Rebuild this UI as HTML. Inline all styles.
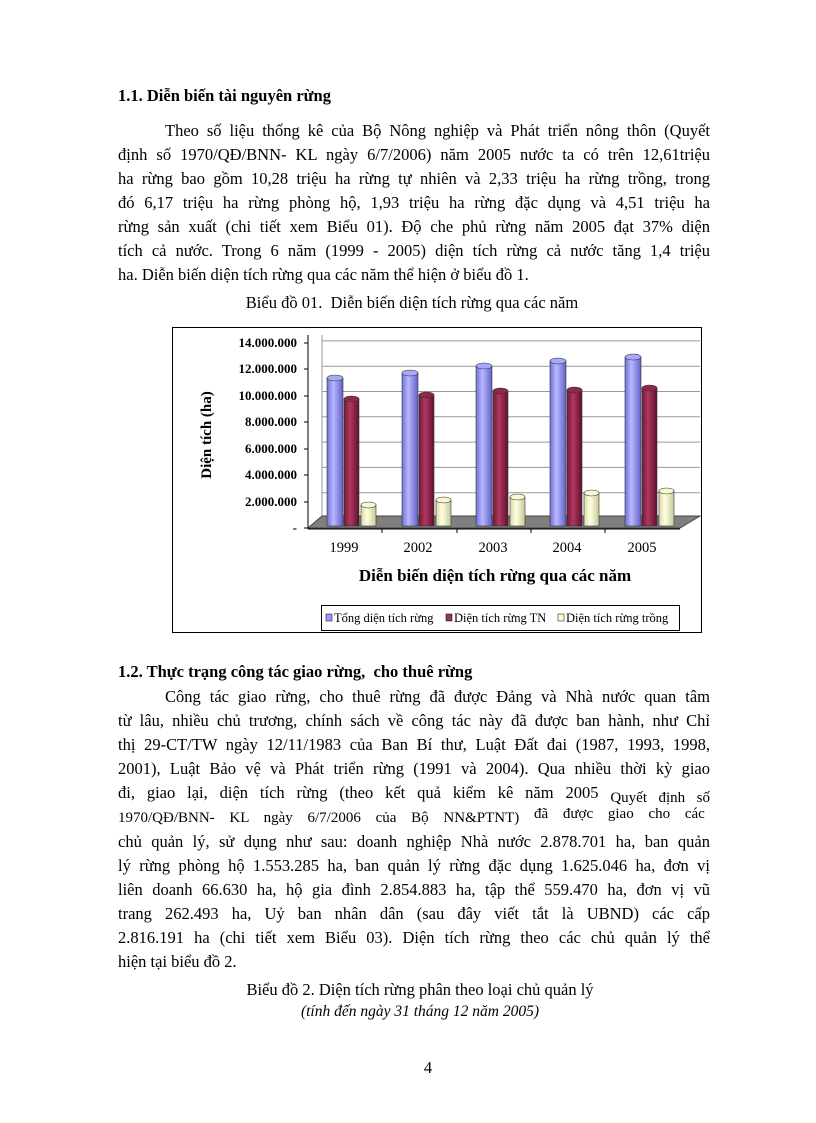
<!DOCTYPE html>
<html><head><meta charset="utf-8"><style>
body{margin:0;background:#fff;}
#p{position:relative;width:816px;height:1123px;overflow:hidden;font-family:"Liberation Serif",serif;font-size:16.5px;color:#000;}
.l{position:absolute;left:118px;width:592px;height:20px;line-height:20px;white-space:nowrap;text-align:justify;text-align-last:justify;}
.n{text-align-last:left;}
.i{left:165px;width:545px;}
.b{font-weight:bold;}
.c{position:absolute;left:0;width:816px;text-align:center;line-height:20px;}
</style></head><body><div id="p">
<div class="l n b" style="top:86px">1.1. Diễn biến tài nguyên rừng</div>
<div class="l i" style="top:121px">Theo số liệu thống kê của Bộ Nông nghiệp và Phát triển nông thôn (Quyết</div>
<div class="l" style="top:145px">định số 1970/QĐ/BNN- KL ngày 6/7/2006) năm 2005 nước ta có trên 12,61triệu</div>
<div class="l" style="top:169px">ha rừng bao gồm 10,28 triệu ha rừng tự nhiên và 2,33 triệu ha rừng trồng, trong</div>
<div class="l" style="top:193px">đó 6,17 triệu ha rừng phòng hộ, 1,93 triệu ha rừng đặc dụng và 4,51 triệu ha</div>
<div class="l" style="top:217px">rừng sản xuất (chi tiết xem Biểu 01). Độ che phủ rừng năm 2005 đạt 37% diện</div>
<div class="l" style="top:241px">tích cả nước. Trong 6 năm (1999 - 2005) diện tích rừng cả nước tăng 1,4 triệu</div>
<div class="l n" style="top:265px">ha. Diễn biến diện tích rừng qua các năm thể hiện ở biểu đồ 1.</div>
<div class="c" style="top:293px;left:4px">Biểu đồ 01.&nbsp; Diễn biến diện tích rừng qua các năm</div>

<svg style="position:absolute;left:0;top:0" width="816" height="1123" font-family="Liberation Serif,serif">
<defs>
<linearGradient id="gb" x1="0" x2="1"><stop offset="0" stop-color="#7070d8"/><stop offset=".4" stop-color="#b8b8ff"/><stop offset="1" stop-color="#6060c8"/></linearGradient>
<linearGradient id="gr" x1="0" x2="1"><stop offset="0" stop-color="#701838"/><stop offset=".4" stop-color="#b03860"/><stop offset="1" stop-color="#601030"/></linearGradient>
<linearGradient id="gy" x1="0" x2="1"><stop offset="0" stop-color="#d8d8a8"/><stop offset=".4" stop-color="#ffffe0"/><stop offset="1" stop-color="#c8c898"/></linearGradient>
</defs>
<rect x="172.5" y="327.5" width="529" height="305" fill="#fff" stroke="#000"/>
<polyline points="308,528 322,518 322,335" fill="none" stroke="#999"/>
<g stroke="#999" fill="none">
<line x1="322" y1="492.7" x2="700" y2="492.7"/><line x1="322" y1="467.4" x2="700" y2="467.4"/>
<line x1="322" y1="442.1" x2="700" y2="442.1"/><line x1="322" y1="416.8" x2="700" y2="416.8"/>
<line x1="322" y1="391.5" x2="700" y2="391.5"/><line x1="322" y1="366.2" x2="700" y2="366.2"/>
<line x1="322" y1="340.9" x2="700" y2="340.9"/>
</g>
<polygon points="308,528 680,528 700,516 322,516" fill="#808080" stroke="#444"/>
<line x1="308" y1="335" x2="308" y2="529" stroke="#000"/>
<line x1="308" y1="529" x2="680" y2="529" stroke="#000"/>
<g stroke="#000"><line x1="304" y1="343" x2="308" y2="343"/><line x1="304" y1="369" x2="308" y2="369"/><line x1="304" y1="396" x2="308" y2="396"/><line x1="304" y1="422" x2="308" y2="422"/><line x1="304" y1="449" x2="308" y2="449"/><line x1="304" y1="475" x2="308" y2="475"/><line x1="304" y1="502" x2="308" y2="502"/><line x1="304" y1="528" x2="308" y2="528"/>
<line x1="382" y1="529" x2="382" y2="533"/><line x1="457" y1="529" x2="457" y2="533"/><line x1="531" y1="529" x2="531" y2="533"/><line x1="605" y1="529" x2="605" y2="533"/></g>
<g font-size="13" font-weight="bold" text-anchor="end">
<text x="297" y="347">14.000.000</text><text x="297" y="373">12.000.000</text><text x="297" y="400">10.000.000</text><text x="297" y="426">8.000.000</text><text x="297" y="453">6.000.000</text><text x="297" y="479">4.000.000</text><text x="297" y="506">2.000.000</text><text x="297" y="532">-</text>
</g>
<text transform="translate(211,435) rotate(-90)" text-anchor="middle" font-size="15" font-weight="bold">Diện tích (ha)</text>
<g stroke="#333" stroke-width=".6">
<rect x="327" y="378" width="16" height="148" fill="url(#gb)"/><ellipse cx="335" cy="378" rx="8" ry="3" fill="#a8a8f8"/>
<rect x="344" y="399" width="15" height="127" fill="url(#gr)"/><ellipse cx="351.5" cy="399" rx="7.5" ry="3" fill="#902848"/>
<rect x="361" y="505" width="15" height="21" fill="url(#gy)"/><ellipse cx="368.5" cy="505" rx="7.5" ry="3" fill="#f8f8d0"/>
<rect x="402" y="373" width="16" height="153" fill="url(#gb)"/><ellipse cx="410" cy="373" rx="8" ry="3" fill="#a8a8f8"/>
<rect x="419" y="395" width="15" height="131" fill="url(#gr)"/><ellipse cx="426.5" cy="395" rx="7.5" ry="3" fill="#902848"/>
<rect x="436" y="500" width="15" height="26" fill="url(#gy)"/><ellipse cx="443.5" cy="500" rx="7.5" ry="3" fill="#f8f8d0"/>
<rect x="476" y="366" width="16" height="160" fill="url(#gb)"/><ellipse cx="484" cy="366" rx="8" ry="3" fill="#a8a8f8"/>
<rect x="493" y="391" width="15" height="135" fill="url(#gr)"/><ellipse cx="500.5" cy="391" rx="7.5" ry="3" fill="#902848"/>
<rect x="510" y="497" width="15" height="29" fill="url(#gy)"/><ellipse cx="517.5" cy="497" rx="7.5" ry="3" fill="#f8f8d0"/>
<rect x="550" y="361" width="16" height="165" fill="url(#gb)"/><ellipse cx="558" cy="361" rx="8" ry="3" fill="#a8a8f8"/>
<rect x="567" y="390" width="15" height="136" fill="url(#gr)"/><ellipse cx="574.5" cy="390" rx="7.5" ry="3" fill="#902848"/>
<rect x="584" y="493" width="15" height="33" fill="url(#gy)"/><ellipse cx="591.5" cy="493" rx="7.5" ry="3" fill="#f8f8d0"/>
<rect x="625" y="357" width="16" height="169" fill="url(#gb)"/><ellipse cx="633" cy="357" rx="8" ry="3" fill="#a8a8f8"/>
<rect x="642" y="388" width="15" height="138" fill="url(#gr)"/><ellipse cx="649.5" cy="388" rx="7.5" ry="3" fill="#902848"/>
<rect x="659" y="491" width="15" height="35" fill="url(#gy)"/><ellipse cx="666.5" cy="491" rx="7.5" ry="3" fill="#f8f8d0"/>
</g>
<g font-size="14.5" text-anchor="middle">
<text x="344" y="552">1999</text><text x="418" y="552">2002</text><text x="493" y="552">2003</text><text x="567" y="552">2004</text><text x="642" y="552">2005</text>
</g>
<text x="495" y="581" font-size="17" font-weight="bold" text-anchor="middle">Diễn biến diện tích rừng qua các năm</text>
<rect x="321.5" y="605.5" width="358" height="25" fill="#fff" stroke="#000"/>
<g font-size="12.5">
<rect x="326" y="614" width="6" height="7" fill="#9999ff" stroke="#000" stroke-width=".5"/><text x="334" y="622">Tổng diện tích rừng</text>
<rect x="446" y="614" width="6" height="7" fill="#993366" stroke="#000" stroke-width=".5"/><text x="454" y="622">Diện tích rừng TN</text>
<rect x="558" y="614" width="6" height="7" fill="#ffffcc" stroke="#000" stroke-width=".5"/><text x="566" y="622">Diện tích rừng trồng</text>
</g>
</svg>

<div class="l n b" style="top:662px">1.2. Thực trạng công tác giao rừng,&nbsp; cho thuê rừng</div>
<div class="l i" style="top:687px">Công tác giao rừng, cho thuê rừng đã được Đảng và Nhà nước quan tâm</div>
<div class="l" style="top:711px">từ lâu, nhiều chủ trương, chính sách về công tác này đã được ban hành, như Chỉ</div>
<div class="l" style="top:735px">thị 29-CT/TW ngày 12/11/1983 của Ban Bí thư, Luật Đất đai (1987, 1993, 1998,</div>
<div class="l" style="top:759px">2001), Luật Bảo vệ và Phát triển rừng (1991 và 2004). Qua nhiều thời kỳ giao</div>
<div class="l" style="top:783px">đi, giao lại, diện tích rừng (theo kết quả kiểm kê năm 2005 <span style="font-size:15px;position:relative;top:4px">Quyết định số</span></div>
<div class="l n" style="top:808px;font-size:15px;word-spacing:11px">1970/QĐ/BNN- KL ngày 6/7/2006 của Bộ NN&amp;PTNT) <span style="position:relative;top:-4px">đã được giao cho các</span></div>
<div class="l" style="top:832px">chủ quản lý, sử dụng như sau: doanh nghiệp Nhà nước 2.878.701 ha, ban quản</div>
<div class="l" style="top:856px">lý rừng phòng hộ 1.553.285 ha, ban quản lý rừng đặc dụng 1.625.046 ha, đơn vị</div>
<div class="l" style="top:880px">liên doanh 66.630 ha, hộ gia đình 2.854.883 ha, tập thể 559.470 ha, đơn vị vũ</div>
<div class="l" style="top:904px">trang 262.493 ha, Uỷ ban nhân dân (sau đây viết tắt là UBND) các cấp</div>
<div class="l" style="top:928px">2.816.191 ha (chi tiết xem Biểu 03). Diện tích rừng theo các chủ quản lý thể</div>
<div class="l n" style="top:952px">hiện tại biểu đồ 2.</div>
<div class="c" style="top:980px;left:12px">Biểu đồ 2. Diện tích rừng phân theo loại chủ quản lý</div>
<div class="c" style="top:1002px;left:12px;font-style:italic;font-size:15.5px">(tính đến ngày 31 tháng 12 năm 2005)</div>
<div class="c" style="top:1058px;left:20px">4</div>
</div></body></html>
